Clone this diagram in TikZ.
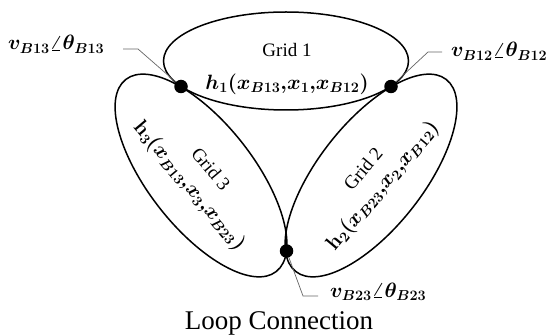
\documentclass[tikz,border=0pt]{standalone}
\usepackage{amsmath}
\usepackage{bm}
\usepackage{fontspec}
\setmainfont{Liberation Serif}
\begin{document}
\begin{tikzpicture}[x=1pt,y=1pt,
  gridline/.style={draw=black,line width=1.5pt},
  busdot/.style={circle,fill=black,inner sep=0pt,minimum size=13.5pt},
  leader/.style={draw=black!60,line width=0.7pt},
  gridname/.style={inner sep=0pt,font=\fontsize{19}{23}\selectfont},
  gridfun/.style={inner sep=0pt,font=\fontsize{20.5}{24}\selectfont\boldmath},
  buslabel/.style={inner sep=0pt,font=\fontsize{22}{26}\selectfont\boldmath},
  caption/.style={inner sep=0pt,font=\fontsize{27}{32}\selectfont}]
\useasboundingbox (0,0) rectangle (556,335);
% grids
\draw[gridline] (286,274) ellipse [x radius=122.5, y radius=49];
\draw[gridline,rotate around={-51.9:(201,159.5)}] (201,159.5) ellipse [x radius=122, y radius=52.6];
\draw[gridline,rotate around={51.9:(371,159.5)}] (371,159.5) ellipse [x radius=122, y radius=52.6];
% texts
\node[gridname] (g1) at (287,285) {Grid 1};
\node[gridfun] (f1) at (287,251) {$\bm{h_1(x_{B13}{,}x_1{,}x_{B12})}$};
\node[gridname,rotate=-50] (g3) at (211,166) {Grid 3};
\node[gridfun,rotate=-50] (f3) at (189,149) {$\bm{\mathbf{h}_3(x_{B13}{,}x_3{,}x_{B23})}$};
\node[gridname,rotate=50] (g2) at (363,166) {Grid 2};
\node[gridfun,rotate=50] (f2) at (383,149) {$\bm{\mathbf{h}_2(x_{B23}{,}x_2{,}x_{B12})}$};
% buses
\coordinate (b13) at (181,248.5);
\coordinate (b12) at (391,248.5);
\coordinate (b23) at (286.5,84);
\coordinate (k13) at (138,286);
\coordinate (e13) at (123,286);
\coordinate (k12) at (428,283);
\coordinate (e12) at (442,283);
\coordinate (k23) at (303,39);
\coordinate (e23) at (318,39);
\draw[leader] (b13) -- (k13) -- (e13);
\draw[leader] (b12) -- (k12) -- (e12);
\draw[leader] (b23) -- (k23) -- (e23);
\node[busdot] (d13) at (b13) {};
\node[busdot] (d12) at (b12) {};
\node[busdot] (d23) at (b23) {};
\node[buslabel,anchor=base west] (l13) at (8,285) {$\bm{v_{B13}\angle\theta_{B13}}$};
\node[buslabel,anchor=base west] (l12) at (451,278) {$\bm{v_{B12}\angle\theta_{B12}}$};
\node[buslabel,anchor=base west] (l23) at (330,38) {$\bm{v_{B23}\angle\theta_{B23}}$};
\node[caption,anchor=base] (cap) at (279,6) {Loop Connection};
\end{tikzpicture}
\end{document}
